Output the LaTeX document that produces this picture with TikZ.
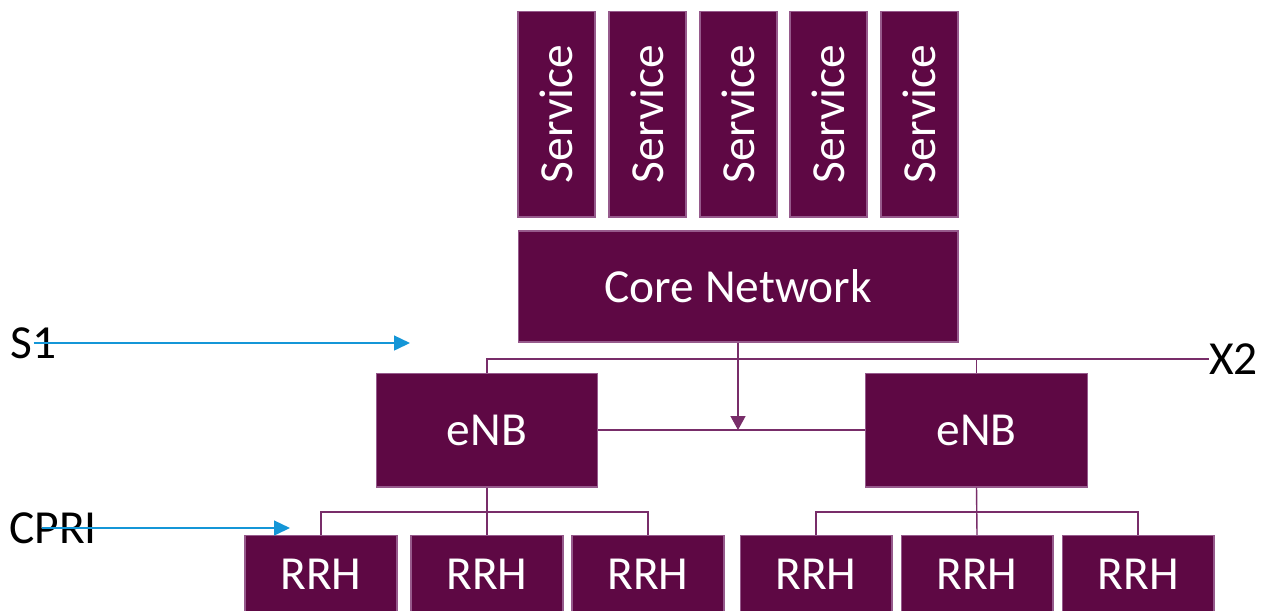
\documentclass[tikz,border=0pt]{standalone}
\usepackage{fontspec}
\setmainfont{Carlito}
\usetikzlibrary{arrows.meta}
\definecolor{plum}{RGB}{94,8,68}
\definecolor{plumedge}{RGB}{150,90,140}
\definecolor{plumline}{RGB}{120,45,105}
\definecolor{feedblue}{RGB}{20,150,215}

\begin{document}
\begin{tikzpicture}[x=0.02cm,y=-0.02cm,
  box/.style={draw=plumedge,line width=0.6pt,fill=plum,text=white,inner sep=0pt,font=\fontsize{27}{32}\selectfont},
  tag/.style={inner sep=0pt,font=\fontsize{27}{32}\selectfont},
  link/.style={draw=plumline,line width=0.8pt},
  feed/.style={draw=feedblue,line width=0.8pt,-{Triangle[length=0.32cm,width=0.3cm]}}]
\clip (0,0) rectangle (1266,610);

% Services
\foreach \i/\x in {1/556.5,2/647.5,3/738.5,4/828.5,5/919.5}
  \node[box,rotate=90,minimum width=4.12cm,minimum height=1.54cm] (svc-\i) at (\x,114) {Service};

% Core
\node[box,minimum width=8.8cm,minimum height=2.22cm] (core) at (738,286.5) {Core Network};

% eNBs
\node[box,minimum width=4.42cm,minimum height=2.28cm] (enb-l) at (487,430) {eNB};
\node[box,minimum width=4.44cm,minimum height=2.28cm] (enb-r) at (976.5,430) {eNB};

% RRHs
\foreach \i/\x in {1/321,2/487,3/648,4/816,5/977,6/1138}
  \node[box,minimum width=3.04cm,minimum height=1.56cm,anchor=north] (rrh-\i) at (\x,535) {RRH};

% Labels
\node[tag] (s1)   at (33.5,343) {S1};
\node[tag] (x2)   at (1233.5,359) {X2};
\node[tag] (cpri) at (53,528) {CPRI};

% Links
\draw[link] (enb-l.north) |- (x2.west);
\draw[link] (enb-r.north) -- (enb-r.north |- x2.west);
\draw[link] (enb-l.east) -- (enb-r.west);
\draw[link,-{Triangle[length=0.28cm,width=0.3cm]}] (core.south) -- (core.south |- enb-l.east);
\foreach \a/\b/\c/\e in {1/2/3/enb-l,4/5/6/enb-r} {
  \draw[link] (\e.south) -- (rrh-\b.north);
  \draw[link] (rrh-\a.north) -- ++(0,-23) -| (rrh-\c.north);
}

% Interfaces
\coordinate (s1-end) at (410,343);
\coordinate (cpri-end) at (290,528);
\draw[feed] (s1.center) -- (s1-end);
\draw[feed] ([xshift=-0.22cm]cpri.center) -- (cpri-end);
\end{tikzpicture}
\end{document}
